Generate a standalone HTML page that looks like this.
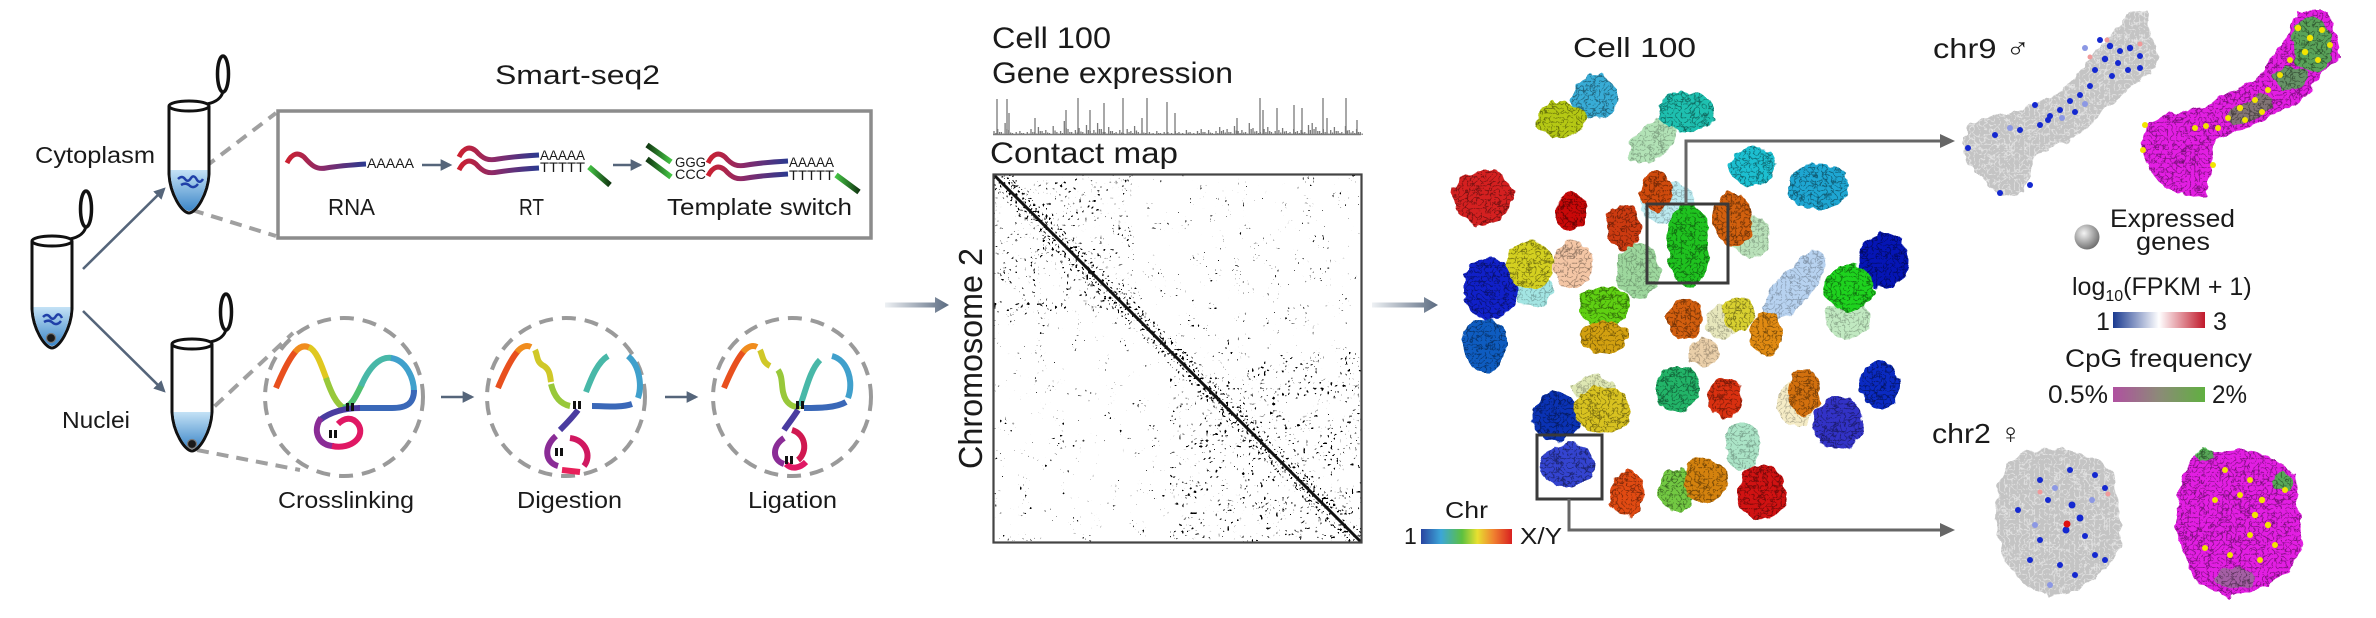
<!DOCTYPE html>
<html><head><meta charset="utf-8"><style>html,body{margin:0;padding:0;background:#fff}svg{display:block}</style></head>
<body>
<svg width="2376" height="618" viewBox="0 0 2376 618" xmlns="http://www.w3.org/2000/svg" font-family="'Liberation Sans','DejaVu Sans',sans-serif" fill="#1a1a1a">
<defs>
<linearGradient id="liq" x1="0" y1="0" x2="0" y2="1"><stop offset="0" stop-color="#c4e2f6"/><stop offset="1" stop-color="#3c86c8"/></linearGradient>
<linearGradient id="rg" x1="0" y1="0" x2="1" y2="0"><stop offset="0" stop-color="#cc2030"/><stop offset="0.45" stop-color="#8a2a6a"/><stop offset="1" stop-color="#2a3a90"/></linearGradient>
<linearGradient id="gg" x1="0" y1="0" x2="1" y2="0"><stop offset="0" stop-color="#44c444"/><stop offset="1" stop-color="#123812"/></linearGradient>
<linearGradient id="gg2" x1="0" y1="0" x2="1" y2="0"><stop offset="0" stop-color="#123812"/><stop offset="1" stop-color="#44c444"/></linearGradient>
<linearGradient id="pa" x1="0" y1="0" x2="1" y2="0"><stop offset="0" stop-color="#eef1f4"/><stop offset="1" stop-color="#5a6a80"/></linearGradient>
<linearGradient id="chr" x1="0" y1="0" x2="1" y2="0"><stop offset="0" stop-color="#2a44a0"/><stop offset="0.22" stop-color="#3ca6d8"/><stop offset="0.45" stop-color="#5cc040"/><stop offset="0.62" stop-color="#e8e030"/><stop offset="0.8" stop-color="#f08030"/><stop offset="1" stop-color="#d82020"/></linearGradient>
<linearGradient id="fpkm" x1="0" y1="0" x2="1" y2="0"><stop offset="0" stop-color="#1a3a90"/><stop offset="0.5" stop-color="#ffffff"/><stop offset="1" stop-color="#c0182a"/></linearGradient>
<linearGradient id="cpg" x1="0" y1="0" x2="1" y2="0"><stop offset="0" stop-color="#b050a0"/><stop offset="0.5" stop-color="#8c8a78"/><stop offset="1" stop-color="#60b040"/></linearGradient>
<radialGradient id="sph" cx="0.38" cy="0.35" r="0.7"><stop offset="0" stop-color="#f4f4f4"/><stop offset="0.6" stop-color="#a0a0a0"/><stop offset="1" stop-color="#6a6a6a"/></radialGradient>
<marker id="ah" viewBox="0 0 10 10" refX="8" refY="5" markerWidth="4.5" markerHeight="4.5" orient="auto"><path d="M0,0 L10,5 L0,10 z" fill="#55657a"/></marker>
<filter id="fb" x="-10%" y="-10%" width="120%" height="120%" color-interpolation-filters="sRGB">
<feTurbulence type="fractalNoise" baseFrequency="0.09" numOctaves="2" seed="3" result="n"/>
<feDisplacementMap in="SourceGraphic" in2="n" scale="10" xChannelSelector="R" yChannelSelector="G" result="d"/>
<feTurbulence type="turbulence" baseFrequency="0.22" numOctaves="2" seed="11" result="t"/>
<feColorMatrix in="t" type="matrix" values="0 0 0 0 0 0 0 0 0 0 0 0 0 0 0 -2.4 0 0 0 0.55" result="s"/>
<feComposite in="s" in2="d" operator="in" result="s2"/>
<feMerge><feMergeNode in="d"/><feMergeNode in="s2"/></feMerge>
</filter>
<filter id="fg" x="-10%" y="-10%" width="120%" height="120%" color-interpolation-filters="sRGB">
<feTurbulence type="fractalNoise" baseFrequency="0.1" numOctaves="2" seed="5" result="n"/>
<feDisplacementMap in="SourceGraphic" in2="n" scale="8" xChannelSelector="R" yChannelSelector="G" result="d"/>
<feTurbulence type="turbulence" baseFrequency="0.2" numOctaves="2" seed="4" result="t"/>
<feColorMatrix in="t" type="matrix" values="0 0 0 0 1 0 0 0 0 1 0 0 0 0 1 -3 0 0 0 0.65" result="w"/>
<feComposite in="w" in2="d" operator="in" result="w2"/>
<feMerge><feMergeNode in="d"/><feMergeNode in="w2"/></feMerge>
</filter>
<filter id="sp1" x="0" y="0" width="100%" height="100%" color-interpolation-filters="sRGB">
<feTurbulence type="fractalNoise" baseFrequency="0.5" numOctaves="1" seed="21"/>
<feColorMatrix type="matrix" values="0 0 0 0 0 0 0 0 0 0 0 0 0 0 0 -40 0 0 0 8.4"/>
<feComposite in2="SourceGraphic" operator="in"/>
</filter>
<filter id="spc" x="0" y="0" width="100%" height="100%" color-interpolation-filters="sRGB">
<feTurbulence type="fractalNoise" baseFrequency="0.33" numOctaves="1" seed="17" result="h"/>
<feColorMatrix in="h" type="matrix" values="0 0 0 0 0 0 0 0 0 0 0 0 0 0 0 -40 0 0 0 13.4" result="a"/>
<feTurbulence type="fractalNoise" baseFrequency="0.05" numOctaves="2" seed="9" result="l"/>
<feColorMatrix in="l" type="matrix" values="0 0 0 0 0 0 0 0 0 0 0 0 0 0 0 9 0 0 0 -4.0" result="b"/>
<feComposite in="a" in2="b" operator="in" result="c"/>
<feComposite in="c" in2="SourceGraphic" operator="in"/>
</filter>
<filter id="spc2" x="0" y="0" width="100%" height="100%" color-interpolation-filters="sRGB">
<feTurbulence type="fractalNoise" baseFrequency="0.4" numOctaves="1" seed="33" result="h"/>
<feColorMatrix in="h" type="matrix" values="0 0 0 0 0 0 0 0 0 0 0 0 0 0 0 -40 0 0 0 12.6" result="a"/>
<feTurbulence type="fractalNoise" baseFrequency="0.06" numOctaves="2" seed="41" result="l"/>
<feColorMatrix in="l" type="matrix" values="0 0 0 0 0 0 0 0 0 0 0 0 0 0 0 9 0 0 0 -5.0" result="b"/>
<feComposite in="a" in2="b" operator="in" result="c"/>
<feComposite in="c" in2="SourceGraphic" operator="in"/>
</filter>
<filter id="sp3" x="0" y="0" width="100%" height="100%" color-interpolation-filters="sRGB">
<feTurbulence type="fractalNoise" baseFrequency="0.45" numOctaves="1" seed="2"/>
<feColorMatrix type="matrix" values="0 0 0 0 0 0 0 0 0 0 0 0 0 0 0 -40 0 0 0 15.4"/>
<feComposite in2="SourceGraphic" operator="in"/>
</filter>
<g id="tube">
<path d="M-20,0 L-20,68 C-19,88 -7,107 0,107 C7,107 19,88 20,68 L20,0" fill="#fff" stroke="#111" stroke-width="3"/>
<path d="M18,-2 C28,-4 33,-9 34,-15" fill="none" stroke="#111" stroke-width="3"/>
<ellipse cx="34" cy="-32" rx="5.5" ry="18" fill="#fff" stroke="#111" stroke-width="3.5"/>
</g>
</defs>

<!-- ===== Panel 1: tubes ===== -->
<g stroke="#a0a0a0" stroke-width="4" stroke-dasharray="12 8" fill="none">
<line x1="205" y1="167" x2="276" y2="113"/>
<line x1="192" y1="210" x2="276" y2="236"/>
<line x1="200" y1="420" x2="293" y2="333"/>
<line x1="197" y1="450" x2="300" y2="470"/>
</g>

<g transform="translate(52,241)">
<use href="#tube"/>
<path d="M-18.5,66 L-18.5,68 C-17.5,87 -6.5,105 0,105 C6.5,105 17.5,87 18.5,68 L18.5,66 Z" fill="url(#liq)"/>
<path d="M-9,76 q4,-4 7,0 q3,4 6,-1 q3,-4 6,2 m-18,4 q5,-3 9,1 q4,3 8,-2" fill="none" stroke="#2040a8" stroke-width="2.5"/>
<circle cx="-1" cy="97" r="4.5" fill="#1a1a1a" stroke="#777" stroke-width="1.2"/>
<ellipse cx="0" cy="0" rx="20" ry="5" fill="#fff" stroke="#111" stroke-width="3"/>
</g>
<g transform="translate(189,106)">
<use href="#tube"/>
<path d="M-18.5,64 L-18.5,68 C-17.5,87 -6.5,105 0,105 C6.5,105 17.5,87 18.5,68 L18.5,64 Z" fill="url(#liq)"/>
<path d="M-11,73 q4,-4 7,0 q3,4 6,-1 q3,-4 6,2 q3,4 6,-1 m-22,6 q5,-3 9,1 q4,3 8,-2" fill="none" stroke="#2040a8" stroke-width="2.5"/>
<ellipse cx="0" cy="0" rx="20" ry="5" fill="#fff" stroke="#111" stroke-width="3"/>
</g>
<g transform="translate(192,344)">
<use href="#tube"/>
<path d="M-18.5,68 L-18.5,68 C-17.5,87 -6.5,105 0,105 C6.5,105 17.5,87 18.5,68 Z" fill="url(#liq)"/>
<circle cx="0" cy="100" r="4.5" fill="#1a1a1a" stroke="#777" stroke-width="1.2"/>
<ellipse cx="0" cy="0" rx="20" ry="5" fill="#fff" stroke="#111" stroke-width="3"/>
</g>

<g stroke="#55657a" stroke-width="2.6" fill="none" marker-end="url(#ah)">
<line x1="83" y1="269" x2="164" y2="189"/>
<line x1="83" y1="311" x2="164" y2="391"/>
<line x1="422" y1="165" x2="450" y2="165"/>
<line x1="613" y1="165" x2="640" y2="165"/>
<line x1="441" y1="397" x2="472" y2="397"/>
<line x1="665" y1="397" x2="696" y2="397"/>
</g>

<text x="35" y="163" font-size="23" textLength="120" lengthAdjust="spacingAndGlyphs">Cytoplasm</text>
<text x="62" y="428" font-size="23" textLength="68" lengthAdjust="spacingAndGlyphs">Nuclei</text>

<text x="495" y="84" font-size="27" textLength="165" lengthAdjust="spacingAndGlyphs">Smart-seq2</text>
<rect x="278" y="111" width="593" height="127" fill="none" stroke="#8c8c8c" stroke-width="3.5"/>
<g fill="none" stroke-width="5">
<path d="M287,163 C292,153 298,152 304,157 C311,165 316,170 326,168 C338,166 350,165 366,164" stroke="url(#rg)"/>
<path d="M459,157 C464,147 470,146 476,151 C483,159 488,161 498,159 C510,157 522,156 539,155" stroke="url(#rg)"/>
<path d="M459,170 C464,160 470,159 476,164 C483,172 488,174 498,172 C510,170 522,169 539,168" stroke="url(#rg)"/>
<path d="M708,163 C713,153 719,152 725,157 C732,165 737,167 747,165 C759,163 771,162 788,161" stroke="url(#rg)"/>
<path d="M708,176 C713,166 719,165 725,170 C732,178 737,180 747,178 C759,176 771,175 788,174" stroke="url(#rg)"/>
<path d="M589,167 L610,185" stroke="url(#gg)" stroke-width="5.5"/>
<path d="M836,175 L859,192" stroke="url(#gg)" stroke-width="5.5"/>
<path d="M647,145 L671,162" stroke="url(#gg2)" stroke-width="5.5"/>
<path d="M647,159 L671,177" stroke="url(#gg2)" stroke-width="5.5"/>
</g>
<g font-size="14">
<text x="367" y="168" textLength="47" lengthAdjust="spacingAndGlyphs">AAAAA</text>
<text x="540" y="160" textLength="45" lengthAdjust="spacingAndGlyphs">AAAAA</text>
<text x="540" y="172" textLength="45" lengthAdjust="spacingAndGlyphs">TTTTT</text>
<text x="675" y="167" textLength="31" lengthAdjust="spacingAndGlyphs">GGG</text>
<text x="675" y="179" textLength="31" lengthAdjust="spacingAndGlyphs">CCC</text>
<text x="789" y="167" textLength="45" lengthAdjust="spacingAndGlyphs">AAAAA</text>
<text x="789" y="180" textLength="45" lengthAdjust="spacingAndGlyphs">TTTTT</text>
</g>
<g font-size="23">
<text x="328" y="215" textLength="47" lengthAdjust="spacingAndGlyphs">RNA</text>
<text x="519" y="215" textLength="25" lengthAdjust="spacingAndGlyphs">RT</text>
<text x="667" y="215" textLength="185" lengthAdjust="spacingAndGlyphs">Template switch</text>
<text x="278" y="508" textLength="136" lengthAdjust="spacingAndGlyphs">Crosslinking</text>
<text x="517" y="508" textLength="105" lengthAdjust="spacingAndGlyphs">Digestion</text>
<text x="748" y="508" textLength="89" lengthAdjust="spacingAndGlyphs">Ligation</text>
</g>

<g fill="none" stroke="#9a9a9a" stroke-width="4" stroke-dasharray="14 9">
<circle cx="344" cy="397" r="79"/>
<circle cx="566" cy="397" r="79"/>
<circle cx="792" cy="397" r="79"/>
</g>
<g fill="none" stroke-width="6">
<path d="M276,388 C281,376 288,360 296,351" stroke="#e8501e"/>
<path d="M295,352 C300,346 305,345 310,348" stroke="#f08c1e"/>
<path d="M309,347 C318,352 322,368 327,380" stroke="#e0c820"/>
<path d="M326,378 C331,392 336,404 344,408" stroke="#98c83a"/>
<path d="M343,408 C352,406 356,396 362,384" stroke="#50c070"/>
<path d="M361,386 C368,370 378,356 392,358" stroke="#48b8a8"/>
<path d="M391,358 C406,360 414,378 414,392" stroke="#40a0cc"/>
<path d="M414,390 C414,404 406,408 392,408 C380,408 370,408 358,408" stroke="#3a68b8"/>
<path d="M360,408 C345,408 330,412 320,420" stroke="#4a3ca0"/>
<path d="M321,418 C312,430 318,446 334,446" stroke="#8a2c96"/>
<path d="M332,446 C352,450 366,436 358,424 C352,416 344,418 338,424" stroke="#e01864"/>

<path d="M498,388 C503,376 510,360 518,351" stroke="#e8501e"/>
<path d="M517,352 C522,346 527,345 531,347" stroke="#f08c1e"/>
<path d="M535,350 C538,356 536,362 544,366 C550,370 550,376 551,382" stroke="#d0c828"/>
<path d="M551,384 C554,396 560,404 570,406" stroke="#98c83a"/>
<path d="M586,392 C592,376 598,362 608,356" stroke="#48b8a8"/>
<path d="M628,356 C640,366 642,386 638,398" stroke="#40a0cc"/>
<path d="M632,404 C620,408 605,406 592,406" stroke="#3a68b8"/>
<path d="M578,410 C572,418 566,424 560,430" stroke="#4a3ca0"/>
<path d="M556,436 C544,446 544,462 558,466" stroke="#8a2c96"/>
<path d="M570,438 C586,440 592,456 584,466" stroke="#d01860"/>
<path d="M562,470 L580,472" stroke="#e8205a"/>

<path d="M724,388 C729,376 736,360 744,351" stroke="#e8501e"/>
<path d="M743,352 C748,346 753,345 757,347" stroke="#f08c1e"/>
<path d="M760,350 C763,356 762,362 770,366" stroke="#d0c828"/>
<path d="M778,370 C784,378 780,390 786,400 C790,406 796,408 800,406" stroke="#98c83a"/>
<path d="M800,406 C806,390 810,370 820,360" stroke="#48b8a8"/>
<path d="M832,356 C848,360 854,382 848,398" stroke="#40a0cc"/>
<path d="M846,402 C836,408 818,408 804,408" stroke="#3a68b8"/>
<path d="M798,410 C793,418 788,424 784,430" stroke="#4a3ca0"/>
<path d="M792,430 C806,434 808,452 798,460" stroke="#d01850"/>
<path d="M784,438 C772,446 772,460 784,464" stroke="#8a2c96"/>
<path d="M786,464 C792,470 800,468 806,462" stroke="#e01864"/>
</g>
<g fill="#111">
<rect x="346" y="403" width="3" height="8"/><rect x="351" y="403" width="3" height="8"/>
<rect x="329" y="430" width="3" height="8"/><rect x="334" y="430" width="3" height="8"/>
<rect x="573" y="401" width="3" height="8"/><rect x="578" y="401" width="3" height="8"/>
<rect x="555" y="448" width="3" height="8"/><rect x="560" y="448" width="3" height="8"/>
<rect x="796" y="401" width="3" height="8"/><rect x="801" y="401" width="3" height="8"/>
<rect x="785" y="456" width="3" height="8"/><rect x="790" y="456" width="3" height="8"/>
</g>

<path d="M885,302.5 L935,302.5 L935,297 L949,305 L935,313 L935,307.5 L885,307.5 Z" fill="url(#pa)"/>
<path d="M1372,302.5 L1424,302.5 L1424,297 L1438,305 L1424,313 L1424,307.5 L1372,307.5 Z" fill="url(#pa)"/>

<!-- ===== Panel 2: contact map ===== -->
<text x="992" y="48" font-size="30" textLength="119" lengthAdjust="spacingAndGlyphs">Cell 100</text>
<text x="992" y="83" font-size="30" textLength="241" lengthAdjust="spacingAndGlyphs">Gene expression</text>
<text x="990" y="163" font-size="30" textLength="188" lengthAdjust="spacingAndGlyphs">Contact map</text>
<text transform="translate(982,469) rotate(-90)" x="0" y="0" font-size="33" textLength="221" lengthAdjust="spacingAndGlyphs">Chromosome 2</text>

<g stroke="#7a7a7a" fill="none" stroke-width="1.3">
<path d="M993 134.5H1361" stroke-width="1.5"/>
<path id="gb" d="M994 135v-4m3.7 4v-6m3.7 6v-3m3.7 3v-12m3.7 12v-5m3.7 5v-2m3.7 2v-3m3.7 3v-4m3.7 4v-2m3.7 2v-3m3.7 3v-6m3.7 6v-3m3.7 3v-8m3.7 8v-4m3.7 4v-5m3.7 5v-2m3.7 2v-9m3.7 9v-3m3.7 3v-4m3.7 4v-14m3.7 14v-6m3.7 6v-3m3.7 3v-5m3.7 5v-7m3.7 7v-3m3.7 3v-10m3.7 10v-4m3.7 4v-5m3.7 5v-12m3.7 12v-6m3.7 6v-3m3.7 3v-8m3.7 8v-4m3.7 4v-3m3.7 3v-5m3.7 5v-2m3.7 2v-6m3.7 6v-4m3.7 4v-9m3.7 9v-3m3.7 3v-5m3.7 5v-2m3.7 2v-3m3.7 3v-2m3.7 2v-4m3.7 4v-2m3.7 2v-3m3.7 3v-3m3.7 3v-2m3.7 2v-4m3.7 4v-3m3.7 3v-2m3.7 2v-5m3.7 5v-3m3.7 3v-2m3.7 2v-4m3.7 4v-6m3.7 6v-3m3.7 3v-5m3.7 5v-2m3.7 2v-4m3.7 4v-8m3.7 8v-5m3.7 5v-6m3.7 6v-3m3.7 3v-9m3.7 9v-4m3.7 4v-5m3.7 5v-3m3.7 3v-12m3.7 12v-7m3.7 7v-4m3.7 4v-3m3.7 3v-6m3.7 6v-8m3.7 8v-3m3.7 3v-4m3.7 4v-5m3.7 5v-7m3.7 7v-4m3.7 4v-3m3.7 3v-6m3.7 6v-4m3.7 4v-5m3.7 5v-3m3.7 3v-10m3.7 10v-12m3.7 12v-8m3.7 8v-4m3.7 4v-6m3.7 6v-3m3.7 3v-5m3.7 5v-8m3.7 8v-4m3.7 4v-3m3.7 3v-9m3.7 9v-5m3.7 5v-4m3.7 4v-6m3.7 6v-3"/>
<use href="#gb" transform="translate(1.85,67.5) scale(1,0.5)"/>
<path d="M997 135V99M1007 135V99M1009 135V113M1035 135V118M1066 135V110M1078 135V98M1090 135V110M1104 135V103M1123 135V98M1142 135V118M1147 135V98M1167 135V102M1175 135V113M1237 135V118M1260 135V98M1263 135V110M1277 135V108M1294 135V105M1302 135V108M1323 135V98M1327 135V118M1346 135V98M1357 135V120"/>
</g>

<rect x="994" y="175" width="367" height="367" fill="#000" filter="url(#sp1)"/>
<rect x="994" y="175" width="367" height="367" fill="#000" filter="url(#spc2)"/>
<rect x="994" y="175" width="140" height="140" fill="#000" filter="url(#spc)"/>
<rect x="1170" y="352" width="191" height="190" fill="#000" filter="url(#spc)"/>
<polygon points="993,174 1007,174 1362,529 1362,543 1348,543 993,188" fill="#000" filter="url(#sp3)"/>
<line x1="994" y1="175" x2="1361" y2="542" stroke="#111" stroke-width="3"/>
<rect x="993.5" y="174.5" width="368" height="368" fill="none" stroke="#444" stroke-width="2.2"/>

<!-- ===== Panel 3: chromosome blobs ===== -->
<text x="1573" y="57" font-size="28" textLength="123" lengthAdjust="spacingAndGlyphs">Cell 100</text>
<g filter="url(#fb)">
<g opacity="0.6">
<ellipse cx="1652" cy="142" rx="28" ry="17" transform="rotate(-40 1652 142)" fill="#7fcf85"/>
<ellipse cx="1668" cy="203" rx="27" ry="22" fill="#8fdde6"/>
<ellipse cx="1750" cy="236" rx="20" ry="21" fill="#8acd8a"/>
<ellipse cx="1848" cy="319" rx="23" ry="19" fill="#98da98"/>
<ellipse cx="1794" cy="287" rx="44" ry="17" transform="rotate(-50 1794 287)" fill="#88b4e6"/>
<ellipse cx="1534" cy="290" rx="19" ry="17" fill="#66d4d0"/>
<ellipse cx="1638" cy="271" rx="22" ry="28" fill="#5cbc5c"/>
<ellipse cx="1704" cy="352" rx="16" ry="14" fill="#dcb070"/>
<ellipse cx="1795" cy="404" rx="18" ry="23" fill="#eee0a0"/>
<ellipse cx="1593" cy="388" rx="20" ry="13" fill="#c8d880"/>
<ellipse cx="1743" cy="447" rx="18" ry="24" fill="#74d2a2"/>
<ellipse cx="1722" cy="322" rx="16" ry="16" fill="#d8d890"/>
</g>
<ellipse cx="1595" cy="97" rx="23" ry="22" fill="#38acd6"/>
<ellipse cx="1561" cy="119" rx="24" ry="18" fill="#b5c814"/>
<ellipse cx="1686" cy="112" rx="29" ry="20" fill="#1ec0b0"/>
<ellipse cx="1483" cy="197" rx="30" ry="28" fill="#d42020"/>
<ellipse cx="1571" cy="211" rx="16" ry="18" fill="#c80808"/>
<ellipse cx="1623" cy="226" rx="17" ry="23" fill="#cc3a10"/>
<ellipse cx="1656" cy="192" rx="16" ry="20" fill="#cf4a0c"/>
<ellipse cx="1688" cy="245" rx="21" ry="42" fill="#1fc21f"/>
<ellipse cx="1733" cy="220" rx="20" ry="27" fill="#d2600e"/>
<ellipse cx="1753" cy="167" rx="23" ry="20" fill="#1cbfd0"/>
<ellipse cx="1818" cy="187" rx="30" ry="23" fill="#1ea6d2"/>
<ellipse cx="1883" cy="261" rx="25" ry="28" fill="#0515b5"/>
<ellipse cx="1849" cy="288" rx="25" ry="23" fill="#1ed21e"/>
<ellipse cx="1490" cy="288" rx="27" ry="31" fill="#1020c8"/>
<ellipse cx="1485" cy="345" rx="22" ry="27" fill="#0e5cc0"/>
<ellipse cx="1530" cy="265" rx="23" ry="24" fill="#d4d020"/>
<ellipse cx="1573" cy="264" rx="20" ry="24" fill="#f2bc95" opacity="0.85"/>
<ellipse cx="1604" cy="306" rx="25" ry="20" fill="#5fd012"/>
<ellipse cx="1605" cy="337" rx="23" ry="16" fill="#d2a010"/>
<ellipse cx="1685" cy="319" rx="18" ry="21" fill="#d25e0e"/>
<ellipse cx="1738" cy="314" rx="16" ry="17" fill="#d8d030"/>
<ellipse cx="1766" cy="334" rx="16" ry="22" fill="#e08a12"/>
<ellipse cx="1678" cy="389" rx="22" ry="23" fill="#22b468"/>
<ellipse cx="1725" cy="398" rx="18" ry="20" fill="#d83010"/>
<ellipse cx="1804" cy="393" rx="16" ry="23" fill="#d2700e"/>
<ellipse cx="1838" cy="423" rx="25" ry="27" fill="#3232c6"/>
<ellipse cx="1880" cy="385" rx="20" ry="23" fill="#0a2ac2"/>
<ellipse cx="1556" cy="417" rx="24" ry="25" fill="#0a32b4"/>
<ellipse cx="1602" cy="410" rx="28" ry="23" fill="#d8c220"/>
<ellipse cx="1568" cy="465" rx="28" ry="22" fill="#3444d0"/>
<ellipse cx="1627" cy="494" rx="17" ry="23" fill="#e04a12"/>
<ellipse cx="1676" cy="490" rx="18" ry="22" fill="#72c842"/>
<ellipse cx="1705" cy="480" rx="22" ry="23" fill="#d4820e"/>
<ellipse cx="1762" cy="493" rx="25" ry="28" fill="#d01212"/>
</g>

<g fill="none" stroke="#505050" stroke-width="3">
<rect x="1647" y="204" width="81" height="79" stroke="#3a3a3a"/>
<rect x="1537" y="435" width="65" height="64" stroke="#3a3a3a"/>
<polyline points="1686,204 1686,141 1944,141" stroke="#666"/>
<polyline points="1569,499 1569,530 1944,530" stroke="#666"/>
</g>
<path d="M1940,134 L1955,141 L1940,148 Z" fill="#666"/>
<path d="M1940,523 L1955,530 L1940,537 Z" fill="#666"/>

<text x="1445" y="518" font-size="23" textLength="43" lengthAdjust="spacingAndGlyphs">Chr</text>
<text x="1404" y="544" font-size="23">1</text>
<rect x="1421" y="529" width="91" height="15" fill="url(#chr)"/>
<text x="1520" y="544" font-size="23" textLength="42" lengthAdjust="spacingAndGlyphs">X/Y</text>

<!-- ===== Panel 4: right ===== -->
<text x="1933" y="58" font-size="28" textLength="97" lengthAdjust="spacingAndGlyphs">chr9 ♂</text>
<text x="1932" y="443" font-size="28" textLength="90" lengthAdjust="spacingAndGlyphs">chr2 ♀</text>

<g filter="url(#fg)">
<polygon points="1962,143 1970,123 1997,115 2023,110 2033,103 2053,97 2070,83 2087,63 2097,50 2117,30 2130,13 2147,10 2150,33 2160,57 2150,73 2130,87 2117,100 2103,110 2087,127 2070,140 2047,150 2033,157 2030,177 2023,193 2003,197 1983,180 1967,160" fill="#c4c4c4"/>
<polygon points="2020,452 2060,448 2100,460 2115,475 2120,520 2122,545 2105,570 2080,590 2050,598 2025,585 2005,560 1995,525 1998,485 2008,465" fill="#c4c4c4"/>
</g>
<g filter="url(#fb)">
<polygon points="2140,143 2150,123 2170,113 2193,110 2207,107 2220,97 2240,87 2257,77 2270,60 2290,33 2297,13 2313,10 2330,10 2340,57 2323,70 2307,97 2297,103 2277,113 2250,127 2237,130 2217,140 2213,157 2210,177 2207,195 2187,197 2163,187 2147,167" fill="#e21ee2"/>
<g opacity="0.8">
<ellipse cx="2312" cy="45" rx="20" ry="28" fill="#38c438"/>
<ellipse cx="2290" cy="78" rx="16" ry="12" fill="#48b048"/>
<ellipse cx="2250" cy="110" rx="26" ry="10" transform="rotate(-25 2250 110)" fill="#6a8a5a"/>
</g>
<polygon points="2200,452 2240,448 2275,458 2295,475 2300,520 2303,545 2290,570 2260,590 2230,598 2200,585 2185,560 2175,525 2180,485 2190,462" fill="#e21ee2"/>
<ellipse cx="2283" cy="482" rx="10" ry="9" fill="#40c040" opacity="0.85"/>
<ellipse cx="2205" cy="455" rx="8" ry="5" fill="#40c040" opacity="0.85"/>
<ellipse cx="2235" cy="578" rx="20" ry="10" fill="#8a7a8a" opacity="0.7"/>
</g>
<g fill="#1428d0">
<circle cx="2100" cy="40" r="3"/><circle cx="2110" cy="46" r="3.2"/><circle cx="2120" cy="51" r="3"/><circle cx="2130" cy="48" r="3.2"/><circle cx="2140" cy="56" r="3"/><circle cx="2105" cy="59" r="3.2"/><circle cx="2118" cy="63" r="3"/><circle cx="2128" cy="70" r="3"/><circle cx="2140" cy="68" r="3"/><circle cx="2095" cy="70" r="3"/><circle cx="2112" cy="76" r="3"/><circle cx="2090" cy="86" r="3"/><circle cx="2080" cy="95" r="3"/><circle cx="2070" cy="101" r="3"/><circle cx="2060" cy="110" r="3"/><circle cx="2050" cy="116" r="3"/><circle cx="2075" cy="112" r="3"/><circle cx="2040" cy="125" r="3"/><circle cx="2020" cy="130" r="3"/><circle cx="1995" cy="135" r="3"/><circle cx="1968" cy="148" r="3"/><circle cx="2035" cy="105" r="3"/><circle cx="2030" cy="185" r="3"/><circle cx="2000" cy="193" r="3"/><circle cx="2048" cy="120" r="3"/>
<circle cx="2040" cy="480" r="3"/><circle cx="2070" cy="470" r="3"/><circle cx="2095" cy="475" r="3"/><circle cx="2105" cy="488" r="3"/><circle cx="2048" cy="500" r="3"/><circle cx="2072" cy="505" r="3.5"/><circle cx="2080" cy="518" r="3.5"/><circle cx="2066" cy="530" r="3.5"/><circle cx="2085" cy="536" r="3"/><circle cx="2040" cy="540" r="3"/><circle cx="2030" cy="560" r="3"/><circle cx="2060" cy="565" r="3"/><circle cx="2095" cy="555" r="3"/><circle cx="2105" cy="560" r="3"/><circle cx="2018" cy="510" r="3"/><circle cx="2075" cy="575" r="3"/>
</g>
<g fill="#8c98e4">
<circle cx="2085" cy="48" r="3"/><circle cx="2062" cy="118" r="3"/><circle cx="2010" cy="128" r="3"/><circle cx="2085" cy="104" r="3"/><circle cx="2055" cy="488" r="3"/><circle cx="2092" cy="500" r="3"/><circle cx="2035" cy="525" r="3"/><circle cx="2050" cy="585" r="3"/>
</g>
<g fill="#f09a9a"><circle cx="2107" cy="40" r="2.5"/><circle cx="2140" cy="44" r="2.5"/><circle cx="2090" cy="57" r="2.5"/><circle cx="2040" cy="492" r="2.5"/><circle cx="2108" cy="494" r="2.5"/></g>
<circle cx="2067" cy="524" r="3.5" fill="#e01010"/>
<g fill="#f2e400">
<circle cx="2298" cy="28" r="3.2"/><circle cx="2310" cy="38" r="3.2"/><circle cx="2322" cy="30" r="3"/><circle cx="2330" cy="45" r="3"/><circle cx="2305" cy="52" r="3.2"/><circle cx="2290" cy="60" r="3"/><circle cx="2318" cy="60" r="3"/><circle cx="2280" cy="75" r="3"/><circle cx="2268" cy="90" r="3"/><circle cx="2255" cy="100" r="3"/><circle cx="2240" cy="108" r="3.2"/><circle cx="2262" cy="112" r="3"/><circle cx="2245" cy="120" r="3"/><circle cx="2228" cy="118" r="3"/><circle cx="2218" cy="128" r="3"/><circle cx="2206" cy="126" r="3"/><circle cx="2195" cy="128" r="3"/><circle cx="2145" cy="125" r="3"/><circle cx="2143" cy="150" r="3"/><circle cx="2213" cy="165" r="3"/>
<circle cx="2225" cy="470" r="3"/><circle cx="2250" cy="480" r="3"/><circle cx="2262" cy="500" r="3.2"/><circle cx="2255" cy="515" r="3.2"/><circle cx="2268" cy="525" r="3.2"/><circle cx="2250" cy="535" r="3"/><circle cx="2240" cy="495" r="3"/><circle cx="2215" cy="500" r="3"/><circle cx="2230" cy="555" r="3"/><circle cx="2260" cy="560" r="3"/><circle cx="2275" cy="545" r="3"/><circle cx="2205" cy="548" r="3"/><circle cx="2285" cy="490" r="3"/>
</g>

<circle cx="2087" cy="237" r="12.5" fill="url(#sph)"/>
<g font-size="25">
<text x="2110" y="227" textLength="125" lengthAdjust="spacingAndGlyphs">Expressed</text>
<text x="2136" y="250" textLength="74" lengthAdjust="spacingAndGlyphs">genes</text>
<text x="2072" y="295">log<tspan font-size="16" dy="6">10</tspan><tspan dy="-6">(FPKM + 1)</tspan></text>
<text x="2096" y="330">1</text>
<text x="2213" y="330">3</text>
<text x="2065" y="367" textLength="187" lengthAdjust="spacingAndGlyphs">CpG frequency</text>
<text x="2048" y="403" textLength="60" lengthAdjust="spacingAndGlyphs">0.5%</text>
<text x="2212" y="403" textLength="35" lengthAdjust="spacingAndGlyphs">2%</text>
</g>
<rect x="2113" y="312" width="92" height="16" fill="url(#fpkm)"/>
<rect x="2113" y="387" width="92" height="15" fill="url(#cpg)"/>
</svg>
</body></html>
